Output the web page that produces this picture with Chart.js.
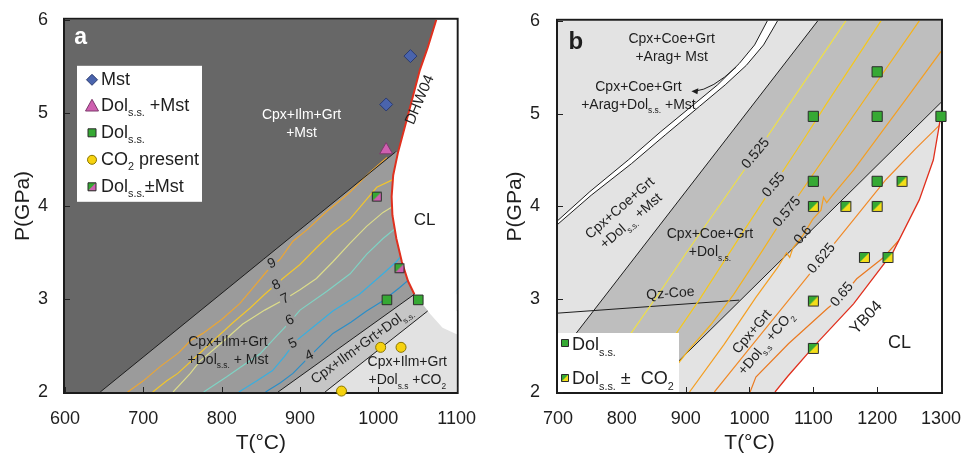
<!DOCTYPE html>
<html>
<head>
<meta charset="utf-8">
<script src="https://cdn.jsdelivr.net/npm/chart.js@4.4.1/dist/chart.umd.min.js"></script>
<style>
body { margin: 0; background: #fff; }
#wrap { position: relative; width: 969px; height: 457px; }
canvas { position: absolute; top: 0; }
</style>
</head>
<body>
<div id="wrap">
  <canvas id="chartA" width="484" height="457" style="left:0"></canvas>
  <canvas id="chartB" width="485" height="457" style="left:484px"></canvas>
</div>
<script>
const FONT = '"Liberation Sans", Arial, Helvetica, sans-serif';

// ---------- panel a : T (°C), P (GPa) ----------
const aXTicks = [600, 700, 800, 900, 1000, 1100];
const aYTicks = [2, 3, 4, 5, 6];

const aMstLine = [[645, 2], [1022, 4.58]];          // Mst-out
const aDolLine = [[872, 2], [1046, 3.05]];          // upper edge of Dol band
const aCO2Line = [[932, 2], [1063, 2.87]];          // CO2-in
const aSolidus = [[1074, 6], [1063, 5.7], [1053, 5.46], [1038, 4.98], [1025, 4.57], [1019, 4.33],
                  [1017, 4.1], [1018, 3.9], [1023, 3.65], [1030, 3.4], [1038, 3.19], [1046, 3.05]];  // DHW04
const aSolidusTail = [[1046, 3.05], [1056, 2.95], [1066, 2.84], [1082, 2.69], [1100, 2.62]];

const aIsoLabels = ['9', '8', '7', '6', '5', '4'];
const aIsoColors = ['#eba634', '#f2c62c', '#dcdc8a', '#7fd3c4', '#38afe0', '#2a8ec8'];
const aIso = [
  [[680, 2], [700, 2.12], [721, 2.27], [745, 2.42], [760, 2.55], [776, 2.63], [800, 2.78], [823, 2.95], [840, 3.12],
   [858, 3.3], [875, 3.43], [891, 3.62], [910, 3.75], [934, 3.94], [950, 4.05], [964, 4.15], [989, 4.36], [1011, 4.52]],
  [[712, 2], [730, 2.12], [744, 2.2], [770, 2.4], [789, 2.55], [815, 2.75], [836, 2.9], [855, 3.05], [878, 3.22],
   [900, 3.37], [921, 3.55], [942, 3.72], [964, 3.86], [985, 4.07], [998, 4.2], [1018, 4.28]],
  [[738, 2], [760, 2.2], [772, 2.33], [800, 2.53], [827, 2.73], [855, 2.88], [881, 3.0], [900, 3.1], [921, 3.22],
   [942, 3.4], [964, 3.6], [985, 3.78], [1006, 3.93], [1018, 3.99]],
  [[777, 2], [806, 2.16], [830, 2.3], [849, 2.41], [870, 2.6], [887, 2.75], [900, 2.88], [934, 3.08], [964, 3.27],
   [985, 3.48], [1006, 3.65], [1022, 3.76]],
  [[822, 2], [845, 2.12], [865, 2.23], [880, 2.38], [895, 2.55], [920, 2.72], [942, 2.87], [976, 3.05],
   [1006, 3.27], [1023, 3.4], [1031, 3.48]],
  [[856, 2], [875, 2.1], [891, 2.2], [912, 2.38], [942, 2.63], [965, 2.75], [985, 2.87], [1006, 2.98],
   [1027, 3.12], [1038, 3.2]]
];

const aMst = [[1041, 5.61], [1010, 5.09]];
const aDolMst = [[1010, 4.6]];
const aDol = [[1011, 2.99], [1051, 2.99]];
const aCO2 = [[1003, 2.48], [1029, 2.48], [953, 2.01]];
const aDolOrMst = [[998, 4.1], [1027, 3.33]];

// ---------- panel b ----------
const bXTicks = [700, 800, 900, 1000, 1100, 1200, 1300];
const bYTicks = [2, 3, 4, 5, 6];

const bLeftLine = [[700, 2.38], [1107, 6]];
const bRightLine = [[840, 2], [1300, 5.12]];
const bAragUpper = [[700, 3.85], [750, 4.16], [810, 4.5], [860, 4.8], [913, 5.1], [950, 5.31], [984, 5.54],
                    [1008, 5.74], [1028, 6]];
const bAragLower = [[700, 3.81], [752, 4.12], [815, 4.46], [868, 4.77], [922, 5.08], [962, 5.31], [995, 5.52],
                    [1022, 5.74], [1044, 6]];
const bQzCoe = [[700, 2.85], [984, 2.99]];
const bSolidus = [[1040, 2], [1060, 2.17], [1102, 2.5], [1163, 2.95], [1225, 3.51], [1266, 4.07],
                  [1288, 4.5], [1297, 4.86], [1300, 5.0]];  // YB04

const bIsoLabels = ['0.525', '0.55', '0.575', '0.6', '0.625', '0.65'];
const bIsoColors = ['#efe046', '#f5c81c', '#f5b31a', '#f49f22', '#f08b2a', '#ea7a22'];
const bIso = [
  [[751, 2], [814, 2.63], [860, 3.08], [900, 3.49], [960, 4.08], [1010, 4.57], [1080, 5.28], [1151, 6]],
  [[825, 2], [885, 2.63], [920, 2.98], [980, 3.62], [1038, 4.23], [1080, 4.67], [1120, 5.1], [1206, 6]],
  [[855, 2], [884, 2.27], [907, 2.47], [940, 2.73], [975, 3.05], [1020, 3.52], [1059, 3.94], [1160, 4.95], [1266, 6]],
  [[906, 2], [960, 2.51], [1010, 3.02], [1045, 3.35], [1058, 3.5], [1063, 3.45], [1068, 3.55], [1084, 3.69],
   [1099, 3.86], [1112, 3.96], [1116, 4.1], [1121, 4.04], [1130, 4.12], [1163, 4.39], [1251, 5.21], [1300, 5.67]],
  [[945, 2], [1000, 2.47], [1060, 2.98], [1114, 3.44], [1160, 3.83], [1214, 4.29], [1260, 4.62], [1297, 4.87]],
  [[1001, 2], [1010, 2.16], [1061, 2.52], [1122, 2.9], [1145, 3.03], [1168, 3.22], [1210, 3.45], [1245, 3.72]]
];

const bDol = [[1200, 5.45], [1100, 4.97], [1200, 4.97], [1300, 4.97], [1100, 4.27], [1200, 4.27]];
const bDolCO2 = [[1239, 4.27], [1100, 4.0], [1151, 4.0], [1200, 4.0], [1180, 3.45], [1217, 3.45], [1100, 2.98], [1100, 2.47]];

// ---------- helpers ----------
const GREEN = '#36a934', YELLOW = '#f3de1a', MAGENTA = '#cf5fb0';
const xy = pts => pts.map(p => ({ x: p[0], y: p[1] }));

function areaSet(pts, color) {
  return { data: xy(pts), fill: 'shape', backgroundColor: color, borderColor: 'rgba(0,0,0,0)',
           borderWidth: 0, pointRadius: 0, tension: 0 };
}
function lineSet(pts, color, width) {
  return { data: xy(pts), fill: false, borderColor: color, borderWidth: width, pointRadius: 0, tension: 0 };
}
function markSet(pts, style, radius, fill, stroke) {
  return { data: xy(pts), showLine: false, pointStyle: style, pointRadius: radius,
           pointBackgroundColor: fill, pointBorderColor: stroke, pointBorderWidth: 1, clip: false };
}
function layered(list) {
  return list.map((d, i) => Object.assign(d, { order: list.length - i }));
}

function marker(ctx, kind, x, y, r, c1, c2, edge) {
  ctx.save();
  ctx.lineWidth = 1;
  ctx.strokeStyle = edge;
  ctx.fillStyle = c1;
  ctx.beginPath();
  if (kind === 'diamond') {
    ctx.moveTo(x, y - r); ctx.lineTo(x + r, y); ctx.lineTo(x, y + r); ctx.lineTo(x - r, y); ctx.closePath();
  } else if (kind === 'triangle') {
    ctx.moveTo(x, y - r); ctx.lineTo(x + r, y + r * 0.8); ctx.lineTo(x - r, y + r * 0.8); ctx.closePath();
  } else if (kind === 'circle') {
    ctx.arc(x, y, r, 0, Math.PI * 2);
  } else {
    ctx.rect(x - r, y - r, 2 * r, 2 * r);
  }
  ctx.fill();
  if (kind === 'half') {
    ctx.fillStyle = c2;
    ctx.beginPath();
    ctx.moveTo(x + r, y - r); ctx.lineTo(x + r, y + r); ctx.lineTo(x - r, y + r); ctx.closePath();
    ctx.fill();
    ctx.beginPath();
    ctx.rect(x - r, y - r, 2 * r, 2 * r);
  }
  ctx.stroke();
  ctx.restore();
}

function halfSquare(c2, size) {
  const cv = document.createElement('canvas');
  cv.width = size + 2; cv.height = size + 2;
  const g = cv.getContext('2d');
  marker(g, 'half', (size + 2) / 2, (size + 2) / 2, size / 2 - 0.5, GREEN, c2, '#2b2b2b');
  return cv;
}

function fontStr(size, bold) {
  return (bold ? 'bold ' : '') + size.toFixed(1) + 'px ' + FONT;
}
function partsWidth(ctx, parts, size, bold) {
  let w = 0;
  parts.forEach(p => {
    const sub = typeof p !== 'string';
    ctx.font = fontStr(sub ? size * 0.6 : size, bold);
    w += ctx.measureText(sub ? p.sub : p).width;
  });
  return w;
}
function drawParts(ctx, parts, x, y, size, color, bold) {
  let cx = x;
  ctx.fillStyle = color;
  ctx.textBaseline = 'middle';
  ctx.textAlign = 'left';
  parts.forEach(p => {
    const sub = typeof p !== 'string';
    const t = sub ? p.sub : p;
    ctx.font = fontStr(sub ? size * 0.6 : size, bold);
    ctx.fillText(t, cx, y + (sub ? size * 0.42 : 0));
    cx += ctx.measureText(t).width;
  });
}
function drawLabel(ctx, l, x, y) {
  const size = l.size || 14, lh = l.lh || size * 1.25;
  ctx.save();
  ctx.translate(x, y);
  ctx.rotate((l.angle || 0) * Math.PI / 180);
  l.lines.forEach((parts, i) => {
    const dy = (i - (l.lines.length - 1) / 2) * lh;
    const w = partsWidth(ctx, parts, size, l.bold);
    if (l.bg) {
      ctx.fillStyle = l.bg;
      ctx.fillRect(-w / 2 - 2, dy - size * 0.5, w + 4, size);
    }
    drawParts(ctx, parts, -w / 2, dy, size, l.color || '#1e1e1e', l.bold);
  });
  ctx.restore();
}

function annotPlugin(labels, extra) {
  return {
    id: 'annot',
    beforeDatasetsDraw(chart) {
      const ctx = chart.ctx, a = chart.chartArea;
      ctx.save();
      ctx.strokeStyle = '#1b1b1b';
      ctx.lineWidth = 2;
      ctx.strokeRect(a.left - 1, a.top - 1, a.right - a.left + 2, a.bottom - a.top + 2);
      ctx.restore();
    },
    afterDatasetsDraw(chart) {
      const ctx = chart.ctx, xs = chart.scales.x, ys = chart.scales.y, a = chart.chartArea;
      ctx.save();
      ctx.strokeStyle = '#222';
      ctx.lineWidth = 1;
      xs.ticks.forEach(t => {
        const px = Math.round(xs.getPixelForValue(t.value)) + 0.5;
        ctx.beginPath(); ctx.moveTo(px, a.bottom); ctx.lineTo(px, a.bottom - 5); ctx.stroke();
      });
      ys.ticks.forEach(t => {
        const py = Math.round(ys.getPixelForValue(t.value)) + 0.5;
        ctx.beginPath(); ctx.moveTo(a.left, py); ctx.lineTo(a.left + 5, py); ctx.stroke();
      });
      ctx.restore();
      labels.forEach(l => drawLabel(ctx, l, xs.getPixelForValue(l.at[0]), ys.getPixelForValue(l.at[1])));
      if (extra) extra(ctx, xs, ys, a);
    }
  };
}

function scaleSet(xMin, xMax, xTicks, yTicks, yWidth, yTitlePad, yTickPad) {
  const tickFont = { family: FONT, size: 18 };
  const titleFont = { family: FONT, size: 21 };
  return {
    x: {
      type: 'linear', min: xMin, max: xMax,
      grid: { display: false }, border: { display: false },
      afterBuildTicks: s => { s.ticks = xTicks.map(v => ({ value: v })); },
      afterFit: s => { s.height = 65; },
      ticks: { font: tickFont, color: '#1e1e1e', padding: 8, maxRotation: 0, autoSkip: false, callback: v => String(v) },
      title: { display: true, text: 'T(°C)', font: titleFont, color: '#1e1e1e', padding: { top: 0, bottom: 1 } }
    },
    y: {
      type: 'linear', min: 2, max: 6,
      grid: { display: false }, border: { display: false },
      afterBuildTicks: s => { s.ticks = yTicks.map(v => ({ value: v })); },
      afterFit: s => { s.width = yWidth; },
      ticks: { font: tickFont, color: '#1e1e1e', padding: yTickPad, autoSkip: false, callback: v => String(v) },
      title: { display: true, text: 'P(GPa)', font: titleFont, color: '#1e1e1e', padding: { top: yTitlePad, bottom: 0 } }
    }
  };
}

const baseOptions = {
  responsive: false,
  animation: false,
  events: [],
  plugins: { legend: { display: false }, tooltip: { enabled: false } }
};

// ---------- chart a ----------
const aLabels = [
  { lines: [['a']], at: [620, 5.81], size: 23, bold: true, color: '#ffffff' },
  { lines: [['Cpx+Ilm+Grt'], ['+Mst']], at: [902, 4.88], size: 14, lh: 18, color: '#ffffff' },
  { lines: [['DHW04']], at: [1053, 5.14], size: 15, angle: -67 },
  { lines: [['CL']], at: [1059, 3.85], size: 17 },
  { lines: [['Cpx+Ilm+Grt'], ['+Dol', { sub: 's.s.' }, ' + Mst']], at: [808, 2.44], size: 14, lh: 18 },
  { lines: [['Cpx+Ilm+Grt+Dol', { sub: 's.s.' }]], at: [979, 2.5], size: 14, angle: -36 },
  { lines: [['Cpx+Ilm+Grt'], ['+Dol', { sub: 's.s' }, ' +CO', { sub: '2' }]], at: [1037, 2.22], size: 14, lh: 18 },
  { lines: [[aIsoLabels[0]]], at: [864, 3.38], size: 14, angle: -25, bg: '#9b9b9b' },
  { lines: [[aIsoLabels[1]]], at: [870, 3.15], size: 14, angle: -25, bg: '#9b9b9b' },
  { lines: [[aIsoLabels[2]]], at: [881, 3.0], size: 14, angle: -25, bg: '#9b9b9b' },
  { lines: [[aIsoLabels[3]]], at: [887, 2.77], size: 14, angle: -25, bg: '#9b9b9b' },
  { lines: [[aIsoLabels[4]]], at: [891, 2.52], size: 14, angle: -25, bg: '#9b9b9b' },
  { lines: [[aIsoLabels[5]]], at: [912, 2.39], size: 14, angle: -25, bg: '#9b9b9b' }
];

function legendA(ctx, xs, ys, a) {
  const x0 = a.left + 12, y0 = a.top + 46;
  ctx.fillStyle = '#ffffff';
  ctx.fillRect(x0, y0, 125, 136);
  const mx = x0 + 15, tx = x0 + 24;
  marker(ctx, 'diamond', mx, y0 + 14, 5.5, '#4a64ad', null, '#2b3b70');
  drawParts(ctx, ['Mst'], tx, y0 + 14, 18, '#1e1e1e');
  marker(ctx, 'triangle', mx, y0 + 40, 6.5, MAGENTA, null, '#7c3a6c');
  drawParts(ctx, ['Dol', { sub: 's.s.' }, ' +Mst'], tx, y0 + 40, 18, '#1e1e1e');
  marker(ctx, 'square', mx, y0 + 67, 4, GREEN, null, '#2b2b2b');
  drawParts(ctx, ['Dol', { sub: 's.s.' }], tx, y0 + 67, 18, '#1e1e1e');
  marker(ctx, 'circle', mx, y0 + 94, 4.5, '#f6d20f', null, '#8a7600');
  drawParts(ctx, ['CO', { sub: '2' }, ' present'], tx, y0 + 94, 18, '#1e1e1e');
  marker(ctx, 'half', mx, y0 + 121, 4, GREEN, MAGENTA, '#2b2b2b');
  drawParts(ctx, ['Dol', { sub: 's.s.' }, '±Mst'], tx, y0 + 121, 18, '#1e1e1e');
}

const aSets = [
  areaSet([[600, 2], [600, 6], [1100, 6], [1100, 2]], '#676767'),
  areaSet([...aMstLine, [1100, 4.58], [1100, 2]], '#9b9b9b'),
  areaSet([...aDolLine, [1100, 3.05], [1100, 2]], '#c6c6c6'),
  areaSet([...aCO2Line, [1100, 2.87], [1100, 2]], '#e2e2e2'),
  ...aIso.map((pts, i) => lineSet(pts, aIsoColors[i], 1.2)),
  areaSet([...aSolidus, ...aSolidusTail.slice(1), [1100, 6]], '#ffffff'),
  lineSet(aSolidus, '#e0301e', 2),
  lineSet(aMstLine, '#1e1e1e', 1),
  lineSet(aDolLine, '#1e1e1e', 1),
  lineSet(aCO2Line, '#1e1e1e', 1),
  markSet(aMst, 'rectRot', 6.5, '#4a64ad', '#2b3b70'),
  markSet(aDolMst, 'triangle', 7.5, MAGENTA, '#7c3a6c'),
  markSet(aDol, 'rect', 6.8, GREEN, '#2b2b2b'),
  markSet(aCO2, 'circle', 5, '#f6d20f', '#8a7600'),
  markSet(aDolOrMst, halfSquare(MAGENTA, 10), 5, MAGENTA, '#2b2b2b')
];

new Chart(document.getElementById('chartA'), {
  type: 'line',
  data: { datasets: layered(aSets) },
  options: Object.assign({}, baseOptions, {
    layout: { padding: { left: 0, right: 27, top: 16, bottom: 0 } },
    scales: scaleSet(600, 1100, aXTicks, aYTicks, 65, 11, 9)
  }),
  plugins: [annotPlugin(aLabels, legendA)]
});

// ---------- chart b ----------
const bLabels = [
  { lines: [['b']], at: [728, 5.77], size: 24, bold: true },
  { lines: [['Cpx+Coe+Grt'], ['+Arag+ Mst']], at: [878, 5.71], size: 14, lh: 18 },
  { lines: [['Cpx+Coe+Grt'], ['+Arag+Dol', { sub: 's.s.' }, ' +Mst']], at: [826, 5.19], size: 14, lh: 18 },
  { lines: [['Cpx+Coe+Grt'], ['+Dol', { sub: 's.s.' }, ' +Mst']], at: [806, 3.91], size: 14, lh: 17, angle: -41 },
  { lines: [['Cpx+Coe+Grt'], ['+Dol', { sub: 's.s.' }]], at: [938, 3.6], size: 14, lh: 18 },
  { lines: [['Qz-Coe']], at: [876, 3.06], size: 14, angle: -4 },
  { lines: [[bIsoLabels[0]]], at: [1010, 4.57], size: 14, angle: -50, bg: '#bebebe' },
  { lines: [[bIsoLabels[1]]], at: [1038, 4.23], size: 14, angle: -50, bg: '#bebebe' },
  { lines: [[bIsoLabels[2]]], at: [1059, 3.94], size: 14, angle: -50, bg: '#bebebe' },
  { lines: [[bIsoLabels[3]]], at: [1084, 3.69], size: 14, angle: -50 },
  { lines: [[bIsoLabels[4]]], at: [1113, 3.44], size: 14, angle: -50, bg: '#e3e3e3' },
  { lines: [[bIsoLabels[5]]], at: [1145, 3.05], size: 14, angle: -50, bg: '#e3e3e3' },
  { lines: [['Cpx+Grt'], ['+Dol', { sub: 's.s' }, ' +CO', { sub: '2' }]], at: [1015, 2.585], size: 14, lh: 18, angle: -50 },
  { lines: [['YB04']], at: [1183, 2.8], size: 16, angle: -47 },
  { lines: [['CL']], at: [1235, 2.53], size: 18 }
];

function legendB(ctx, xs, ys, a) {
  // arrow pointing to the thin Arag+Dol field
  const p0 = [xs.getPixelForValue(979), ys.getPixelForValue(5.5)];
  const c = [xs.getPixelForValue(942), ys.getPixelForValue(5.26)];
  const p1 = [xs.getPixelForValue(909), ys.getPixelForValue(5.24)];
  ctx.save();
  ctx.strokeStyle = '#1e1e1e';
  ctx.fillStyle = '#1e1e1e';
  ctx.lineWidth = 1;
  ctx.beginPath();
  ctx.moveTo(p0[0], p0[1]);
  ctx.quadraticCurveTo(c[0], c[1], p1[0] + 3, p1[1]);
  ctx.stroke();
  ctx.beginPath();
  ctx.moveTo(p1[0], p1[1]);
  ctx.lineTo(p1[0] + 7, p1[1] - 3);
  ctx.lineTo(p1[0] + 6, p1[1] + 3);
  ctx.closePath();
  ctx.fill();
  ctx.restore();

  const x0 = a.left, y0 = a.bottom - 59;
  ctx.fillStyle = '#ffffff';
  ctx.fillRect(x0, y0, 121, 59);
  marker(ctx, 'square', x0 + 7, y0 + 10, 3.5, GREEN, null, '#2b2b2b');
  drawParts(ctx, ['Dol', { sub: 's.s.' }], x0 + 14, y0 + 12, 18, '#1e1e1e');
  marker(ctx, 'half', x0 + 7, y0 + 45, 3.5, GREEN, YELLOW, '#2b2b2b');
  drawParts(ctx, ['Dol', { sub: 's.s.' }, ' ±  CO', { sub: '2' }], x0 + 14, y0 + 46, 18, '#1e1e1e');
}

const bSets = [
  areaSet([[700, 2], [700, 6], [1300, 6], [1300, 2]], '#e3e3e3'),
  areaSet([[700, 2], ...bLeftLine, [1300, 6], ...bRightLine.slice().reverse()], '#bebebe'),
  areaSet([...bAragUpper, ...bAragLower.slice().reverse()], '#ffffff'),
  lineSet(bAragUpper, '#1e1e1e', 1),
  lineSet(bAragLower, '#1e1e1e', 1),
  lineSet(bLeftLine, '#1e1e1e', 1),
  lineSet(bRightLine, '#1e1e1e', 1),
  lineSet(bQzCoe, '#1e1e1e', 1),
  ...bIso.map((pts, i) => lineSet(pts, bIsoColors[i], 1.2)),
  areaSet([...bSolidus, [1300, 2]], '#ffffff'),
  lineSet(bSolidus, '#e0301e', 1.3),
  markSet(bDol, 'rect', 7.2, GREEN, '#2b2b2b'),
  markSet(bDolCO2, halfSquare(YELLOW, 11), 5, YELLOW, '#2b2b2b')
];

new Chart(document.getElementById('chartB'), {
  type: 'line',
  data: { datasets: layered(bSets) },
  options: Object.assign({}, baseOptions, {
    layout: { padding: { left: 0, right: 20, top: 16, bottom: 0 } },
    scales: scaleSet(700, 1300, bXTicks, bYTicks, 74, 19, 10)
  }),
  plugins: [annotPlugin(bLabels, legendB)]
});
</script>
</body>
</html>
